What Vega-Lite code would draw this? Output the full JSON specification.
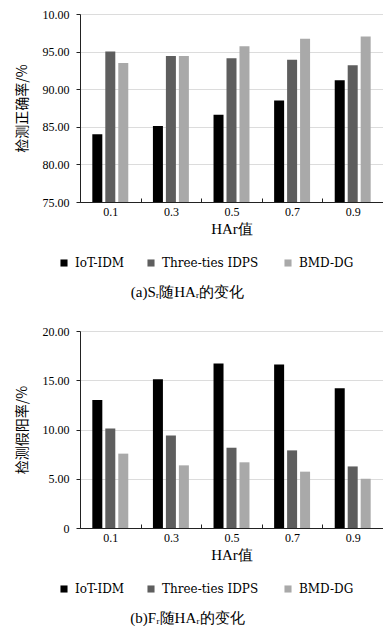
{
  "$schema": "https://vega.github.io/schema/vega-lite/v6.json",
  "background": "white",
  "padding": {"left": 15, "top": 8, "right": 0, "bottom": 0},
  "config": {
    "view": {"stroke": null},
    "font": "Liberation Serif",
    "axis": {"labelFont": "Liberation Serif", "labelFontSize": 12, "labelColor": "#000", "titleColor": "#000", "domainColor": "#222", "tickColor": "#222", "gridColor": "#dcdcdc"},
    "legend": {"labelFont": "DejaVu Serif", "labelFontSize": 12, "labelColor": "#000"}
  },
  "datasets": {
    "a": [
      {"har": "0.1", "method": "IoT-IDM", "value": 84.0},
      {"har": "0.1", "method": "Three-ties  IDPS", "value": 95.0},
      {"har": "0.1", "method": "BMD-DG", "value": 93.5},
      {"har": "0.3", "method": "IoT-IDM", "value": 85.1},
      {"har": "0.3", "method": "Three-ties  IDPS", "value": 94.4},
      {"har": "0.3", "method": "BMD-DG", "value": 94.4},
      {"har": "0.5", "method": "IoT-IDM", "value": 86.6},
      {"har": "0.5", "method": "Three-ties  IDPS", "value": 94.1},
      {"har": "0.5", "method": "BMD-DG", "value": 95.7},
      {"har": "0.7", "method": "IoT-IDM", "value": 88.5},
      {"har": "0.7", "method": "Three-ties  IDPS", "value": 93.9},
      {"har": "0.7", "method": "BMD-DG", "value": 96.7},
      {"har": "0.9", "method": "IoT-IDM", "value": 91.2},
      {"har": "0.9", "method": "Three-ties  IDPS", "value": 93.2},
      {"har": "0.9", "method": "BMD-DG", "value": 97.0}
    ],
    "b": [
      {"har": "0.1", "method": "IoT-IDM", "value": 13.0},
      {"har": "0.1", "method": "Three-ties  IDPS", "value": 10.1},
      {"har": "0.1", "method": "BMD-DG", "value": 7.55},
      {"har": "0.3", "method": "IoT-IDM", "value": 15.1},
      {"har": "0.3", "method": "Three-ties  IDPS", "value": 9.4},
      {"har": "0.3", "method": "BMD-DG", "value": 6.36},
      {"har": "0.5", "method": "IoT-IDM", "value": 16.7},
      {"har": "0.5", "method": "Three-ties  IDPS", "value": 8.15},
      {"har": "0.5", "method": "BMD-DG", "value": 6.67},
      {"har": "0.7", "method": "IoT-IDM", "value": 16.6},
      {"har": "0.7", "method": "Three-ties  IDPS", "value": 7.88},
      {"har": "0.7", "method": "BMD-DG", "value": 5.72},
      {"har": "0.9", "method": "IoT-IDM", "value": 14.2},
      {"har": "0.9", "method": "Three-ties  IDPS", "value": 6.25},
      {"har": "0.9", "method": "BMD-DG", "value": 5.0}
    ]
  },
  "resolve": {"scale": {"color": "independent"}, "legend": {"color": "independent"}},
  "spacing": 25,
  "vconcat": [
    {
      "data": {"name": "a"},
      "width": 303,
      "height": 188,
      "title": {"text": "(a)Sᵣ随HAᵣ的变化", "orient": "bottom", "font": "Times New Roman", "fontSize": 15, "fontWeight": "normal", "color": "#000", "dx": -44, "offset": 16},
      "mark": {"type": "bar", "width": 10, "clip": true},
      "encoding": {
        "x": {"field": "har", "type": "nominal", "sort": null, "scale": {"paddingInner": 0, "paddingOuter": 0},
          "axis": {"title": "HAr值", "titleFontSize": 15, "titleFontWeight": "normal", "titleFont": "Liberation Serif", "labelAngle": 0, "tickOffset": -30.3, "labelOffset": 30.3, "tickSize": -4, "labelPadding": 8, "titlePadding": 4}},
        "xOffset": {"field": "method", "sort": ["IoT-IDM", "Three-ties  IDPS", "BMD-DG"], "scale": {"paddingInner": 0.23, "paddingOuter": 0.95}},
        "y": {"field": "value", "type": "quantitative", "scale": {"domain": [75, 100], "nice": false, "zero": false},
          "axis": {"title": "检测正确率/%", "titleFont": "Noto Sans CJK SC", "titleFontSize": 14, "titleFontWeight": "normal", "titlePadding": 13, "values": [75, 80, 85, 90, 95, 100], "labelExpr": "datum.value == 100 ? '10.00' : format(datum.value, '.2f')", "tickSize": 4, "labelPadding": 7, "grid": true}},
        "color": {"field": "method", "type": "nominal", "sort": ["IoT-IDM", "Three-ties  IDPS", "BMD-DG"],
          "scale": {"domain": ["IoT-IDM", "Three-ties  IDPS", "BMD-DG"], "range": ["#000000", "#5e5e5e", "#a9a9a9"]},
          "legend": {"title": null, "orient": "none", "direction": "horizontal", "legendX": -22, "legendY": 243, "symbolType": "square", "symbolSize": 50, "symbolStrokeWidth": 0, "columnPadding": 20, "labelOffset": 5}}
      }
    },
    {
      "data": {"name": "b"},
      "width": 303,
      "height": 197,
      "title": {"text": "(b)Fᵣ随HAᵣ的变化", "orient": "bottom", "font": "Times New Roman", "fontSize": 15, "fontWeight": "normal", "color": "#000", "dx": -44, "offset": 16},
      "mark": {"type": "bar", "width": 10},
      "encoding": {
        "x": {"field": "har", "type": "nominal", "sort": null, "scale": {"paddingInner": 0, "paddingOuter": 0},
          "axis": {"title": "HAr值", "titleFontSize": 15, "titleFontWeight": "normal", "titleFont": "Liberation Serif", "labelAngle": 0, "tickOffset": -30.3, "labelOffset": 30.3, "tickSize": -4, "labelPadding": 8, "titlePadding": 4}},
        "xOffset": {"field": "method", "sort": ["IoT-IDM", "Three-ties  IDPS", "BMD-DG"], "scale": {"paddingInner": 0.23, "paddingOuter": 0.95}},
        "y": {"field": "value", "type": "quantitative", "scale": {"domain": [0, 20], "nice": false},
          "axis": {"title": "检测假阳率/%", "titleFont": "Noto Sans CJK SC", "titleFontSize": 14, "titleFontWeight": "normal", "titlePadding": 13, "values": [0, 5, 10, 15, 20], "labelExpr": "datum.value == 0 ? '0' : format(datum.value, '.2f')", "tickSize": 4, "labelPadding": 7, "grid": true}},
        "color": {"field": "method", "type": "nominal", "sort": ["IoT-IDM", "Three-ties  IDPS", "BMD-DG"],
          "scale": {"domain": ["IoT-IDM", "Three-ties  IDPS", "BMD-DG"], "range": ["#000000", "#5e5e5e", "#a9a9a9"]},
          "legend": {"title": null, "orient": "none", "direction": "horizontal", "legendX": -22, "legendY": 252, "symbolType": "square", "symbolSize": 50, "symbolStrokeWidth": 0, "columnPadding": 20, "labelOffset": 5}}
      }
    }
  ]
}
